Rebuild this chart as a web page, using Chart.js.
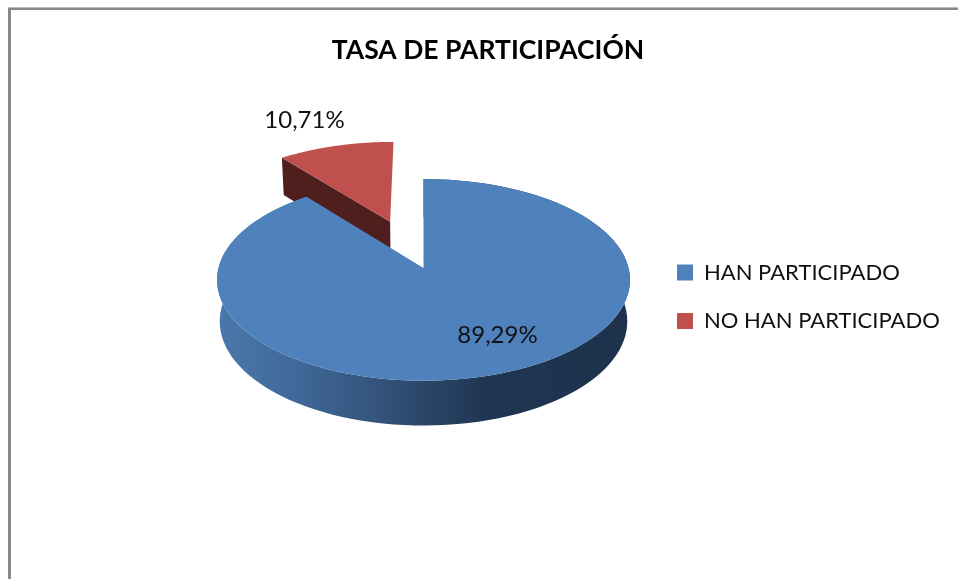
<!DOCTYPE html>
<html>
<head>
<meta charset="utf-8">
<title>Tasa de participación</title>
<script src="https://cdn.jsdelivr.net/npm/chart.js@4/dist/chart.umd.min.js"></script>
<style>
html, body { margin: 0; padding: 0; background: #fff; overflow: hidden; }
#frameTop { position: absolute; left: 8px; right: 0; top: 7px; height: 2px; border-top: 1px solid #bbb; background: #888; }
#frameLeft { position: absolute; left: 8px; top: 8px; bottom: 0; width: 3px; background: #888; }
#chartCanvas { position: absolute; left: 18px; top: 0; }
</style>
</head>
<body>
<div id="frameTop"></div>
<div id="frameLeft"></div>
<canvas id="chartCanvas" width="940" height="579"></canvas>

<script>
// ================= DATA =================

const categories = ['HAN PARTICIPADO', 'NO HAN PARTICIPADO'];
const shares = [89.29, 10.71];
const sliceColors = ['#4f81bd', '#c0504d'];
const sliceOffsets = [0, 107];
const chartTitle = 'TASA DE PARTICIPACIÓN';

// ================= 3D LOOK =================

const TILT = 0.485;
const PERSPECTIVE = 0.119;
const DEPTH = 41;
const FONT = 'Lato, Carlito, sans-serif';
const TEXT_COLOR = '#111';
const RED_WALL = '#4e1f1d';

// where the percent labels sit, measured from the pie apex
const labelShifts = [[74, 67], [-119, -148]];

function percentText(value){
    return value.toFixed(2).replace('.', ',') + '%';
}

// plane position (px, py from the apex) to screen, bottom=true for the lower face
function project(arc, px, py, bottom){
    const w = 1 - PERSPECTIVE * py / arc.outerRadius;
    return {
        x: arc.x + px / w * (bottom ? 0.987 : 1),
        y: arc.y + TILT * py / w + (bottom ? DEPTH * Math.pow(w, -0.7) : 0)
    };
}

function rimPoints(arc, bottom){
    const pts = [];
    const off = arc.options.offset || 0;
    const mid = (arc.startAngle + arc.endAngle) / 2;
    const sx = Math.cos(mid) * off;
    const sy = Math.sin(mid) * off;
    for(let i = 0; i <= 120; i++){
        const a = arc.startAngle + (arc.endAngle - arc.startAngle) * i / 120;
        pts.push(project(arc,
            sx + Math.cos(a) * arc.outerRadius,
            sy + Math.sin(a) * arc.outerRadius, bottom));
    }
    return pts;
}

function apexPoint(arc, bottom){
    const off = arc.options.offset || 0;
    const mid = (arc.startAngle + arc.endAngle) / 2;
    return project(arc, Math.cos(mid) * off, Math.sin(mid) * off, bottom);
}

function fillPolygon(ctx, pts, fill){
    ctx.beginPath();
    pts.forEach((p, i) => i ? ctx.lineTo(p.x, p.y) : ctx.moveTo(p.x, p.y));
    ctx.closePath();
    ctx.fillStyle = fill;
    ctx.fill();
}

function blueWallGradient(ctx, arc){
    const g = ctx.createLinearGradient(arc.x - arc.outerRadius, 0, arc.x + arc.outerRadius, 0);
    g.addColorStop(0, '#4a78ab');
    g.addColorStop(0.18, '#41699a');
    g.addColorStop(0.33, '#375a84');
    g.addColorStop(0.5, '#2b4668');
    g.addColorStop(0.66, '#1f3551');
    g.addColorStop(1, '#1e324d');
    return g;
}

const pie3d = {
    id: 'pie3d',
    afterLayout(chart){
        // title centres on the whole canvas, not on the padded plot
        chart.titleBlock.left = 0;
        chart.titleBlock.right = chart.width;

        // legend sits right of the pie, lower than the plot centre
        const legend = chart.legend;
        const pad = legend.options.labels.padding;
        const w = legend.width;
        const h = legend.height;
        legend.left = 659 - pad;
        legend.right = legend.left + w;
        legend.top = 261.5 - pad;
        legend.bottom = legend.top + h;
        legend.adjustHitBoxes();
    },
    beforeDatasetsDraw(chart){
        const ctx = chart.ctx;
        const arcs = chart.getDatasetMeta(0).data;
        const blue = arcs[0];
        const red = arcs[1];

        ctx.save();

        // red slice: cut wall first, then its top
        const redRim = rimPoints(red, false);
        const redRimLow = rimPoints(red, true);
        fillPolygon(ctx, [redRim[0], apexPoint(red, false), apexPoint(red, true), redRimLow[0]], RED_WALL);
        fillPolygon(ctx, [apexPoint(red, false)].concat(redRim), red.options.backgroundColor);

        // blue slice: side wall, then top
        const blueRim = rimPoints(blue, false);
        const blueRimLow = rimPoints(blue, true);
        fillPolygon(ctx, blueRim.concat(blueRimLow.slice().reverse()), blueWallGradient(ctx, blue));
        fillPolygon(ctx, [apexPoint(blue, false)].concat(blueRim), blue.options.backgroundColor);

        // percent labels
        ctx.font = '24px ' + FONT;
        ctx.fillStyle = TEXT_COLOR;
        ctx.textAlign = 'center';
        ctx.textBaseline = 'middle';
        shares.forEach((value, i) => {
            ctx.fillText(percentText(value), blue.x + labelShifts[i][0], blue.y + labelShifts[i][1]);
        });

        ctx.restore();
        return false;
    }
};

// ================= CHART =================

const ctx = document.getElementById('chartCanvas');

new Chart(ctx, {
    type: 'pie',
    data: {
        labels: categories,
        datasets: [{
            data: shares,
            backgroundColor: sliceColors,
            offset: sliceOffsets,
            borderWidth: 0,
            radius: 205
        }]
    },
    options: {
        responsive: false,
        animation: false,
        layout: {
            padding: { left: 0, right: 129, top: 0, bottom: 112 }
        },
        plugins: {
            title: {
                display: true,
                text: chartTitle,
                color: '#000',
                font: { family: FONT, size: 26.5, weight: 'bold', lineHeight: 1.2 },
                padding: { top: 35, bottom: 2 }
            },
            legend: {
                position: 'chartArea',
                align: 'start',
                labels: {
                    color: TEXT_COLOR,
                    font: { family: FONT, size: 22 },
                    boxWidth: 16,
                    boxHeight: 16,
                    padding: 26.5
                }
            },
            tooltip: { enabled: false }
        }
    },
    plugins: [pie3d]
});
</script>
</body>
</html>
